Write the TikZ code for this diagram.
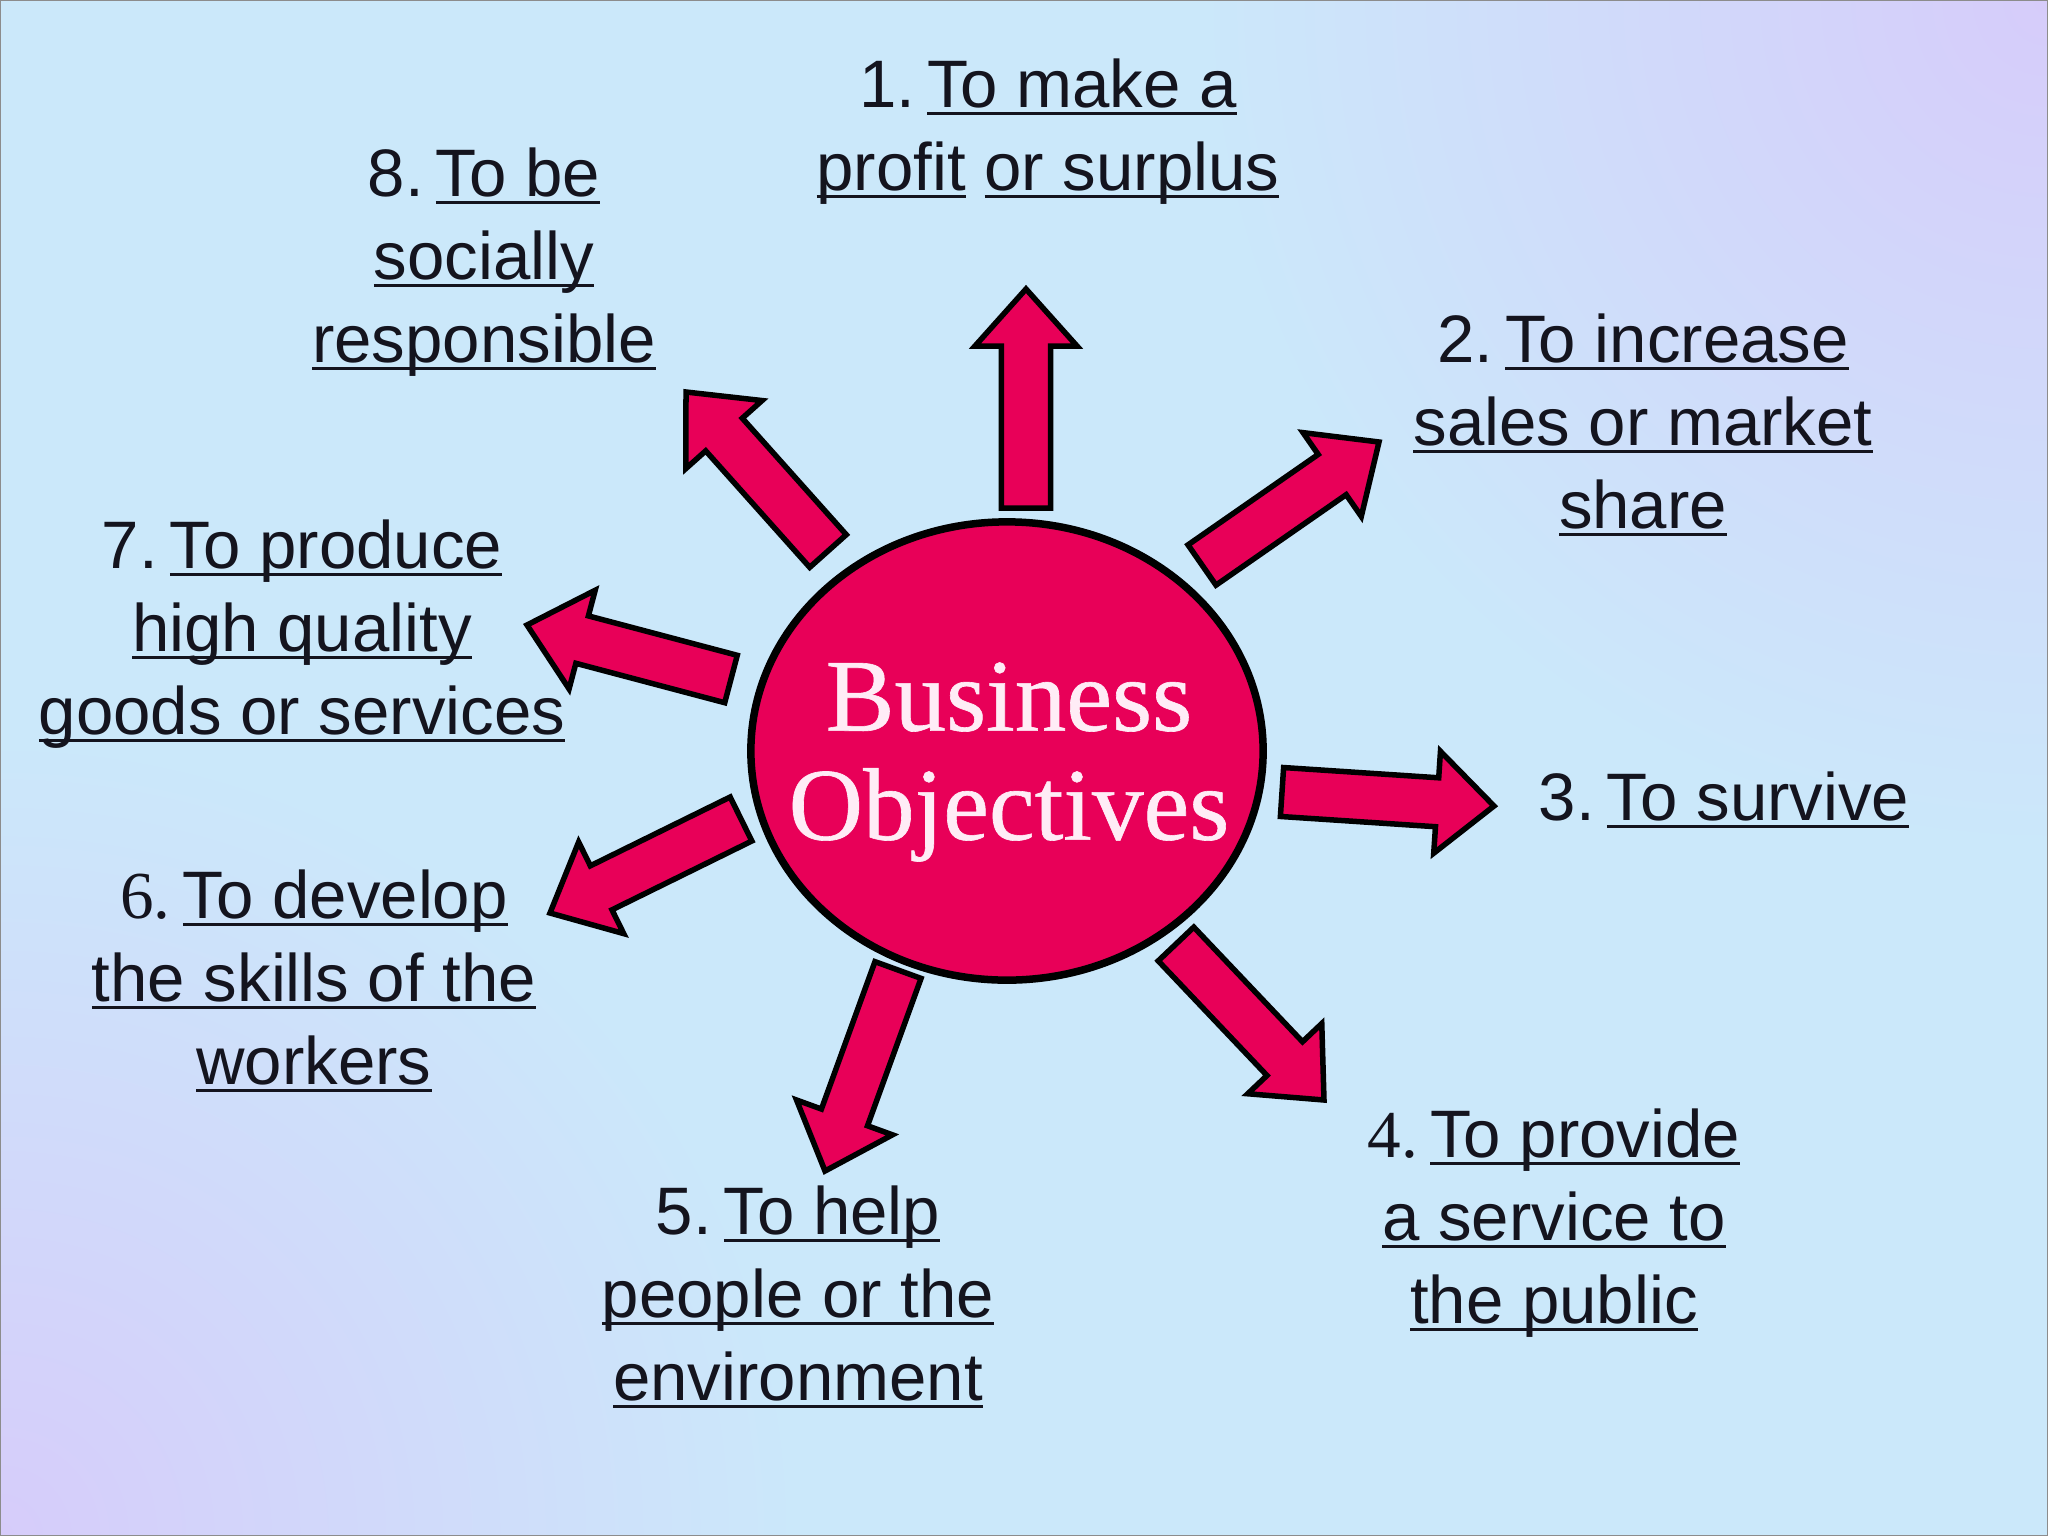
\documentclass[tikz,border=0pt]{standalone}
\usepackage{fontspec}
\setmainfont{Liberation Sans}
\newfontfamily\numserif{Liberation Serif}
\newfontfamily\ctrfont[FakeBold=0.6]{Liberation Serif}
\usetikzlibrary{calc,shapes.geometric}
\definecolor{bgblue}{RGB}{203,232,250}
\definecolor{bglav}{RGB}{214,204,250}
\definecolor{objpink}{RGB}{232,0,88}
\definecolor{ctrtext}{RGB}{255,236,246}
\definecolor{labeltext}{RGB}{20,20,30}
\newsavebox\ulbox
\newcommand\uln[1]{\sbox\ulbox{#1}\rlap{\rule[-0.08cm]{\wd\ulbox}{0.035cm}}\usebox\ulbox}
\newcommand\gap{\kern0.18em}
\newcommand\blockarrow[2]{%
  \coordinate (hb) at ($(#2)!0.57cm!(#1)$);
  \draw[arrowbody] ($(#1)!0.245cm!90:(#2)$) -- ($(hb)!0.245cm!90:(#2)$) -- ($(hb)!0.51cm!90:(#2)$) -- (#2) -- ($(hb)!0.51cm!-90:(#2)$) -- ($(hb)!0.245cm!-90:(#2)$) -- ($(#1)!0.245cm!-90:(#2)$) -- cycle;}
\tikzset{
  arrowbody/.style={fill=objpink, draw=black, line width=0.055cm, line join=miter},
  lbl/.style={font=\fontsize{19.1pt}{23.6pt}\selectfont, text=labeltext, align=center, anchor=north, inner sep=0pt, outer sep=0pt},
  centre/.style={ellipse, draw=black, line width=0.075cm, fill=objpink, minimum width=5.12cm, minimum height=4.58cm, inner sep=0pt},
  centretext/.style={align=center, inner sep=0pt, text=ctrtext, font=\ctrfont\fontsize{29.3pt}{31pt}\selectfont}
}
\begin{document}
\begin{tikzpicture}[x=0.01cm,y=-0.01cm]
\useasboundingbox (0,0) rectangle (2048,1536);
% background
\fill[bgblue] (0,0) rectangle (2048,1536);
\begin{scope}
\clip (0,0) rectangle (2048,1536);
\shade[inner color=bglav, outer color=bgblue] (2048,0) circle (850);
\shade[inner color=bglav, outer color=bgblue] (0,1536) circle (800);
\end{scope}
\draw[line width=0.02cm, black!45] (0,0) rectangle (2048,1536);

% centre
\node[centre] (obj) at (1007,751) {};
\node[centretext] (objtext) at (1009,762) {Business\\Objectives};

% arrow end points
\coordinate (t1) at (1026,508); \coordinate (h1) at (1026,289);
\coordinate (t2) at (1202,565); \coordinate (h2) at (1379,442);
\coordinate (t3) at (1282,792); \coordinate (h3) at (1494,806);
\coordinate (t4) at (1176,944); \coordinate (h4) at (1324,1100);
\coordinate (t5) at (898,970);  \coordinate (h5) at (825,1171);
\coordinate (t6) at (741,819);  \coordinate (h6) at (550,913);
\coordinate (t7) at (731,679);  \coordinate (h7) at (527,625);
\coordinate (t8) at (828,551);  \coordinate (h8) at (686,392);

\blockarrow{t1}{h1}
\blockarrow{t2}{h2}
\blockarrow{t3}{h3}
\blockarrow{t4}{h4}
\blockarrow{t5}{h5}
\blockarrow{t6}{h6}
\blockarrow{t7}{h7}
\blockarrow{t8}{h8}

% labels
\node[lbl] (l1) at (1048,57) {\rule{0pt}{0.5cm}1.\gap\uln{To make a}\\\uln{profit} \uln{or surplus}};
\node[lbl] (l2) at (1643,312) {\rule{0pt}{0.5cm}2.\gap\uln{To increase}\\\uln{sales or market}\\\uln{share}};
\node[lbl] (l3) at (1724,770) {\rule{0pt}{0.5cm}3.\gap\uln{To survive}};
\node[lbl] (l4) at (1554,1107) {\rule{0pt}{0.5cm}{\numserif 4.}\gap\uln{To provide}\\\uln{a service to}\\\uln{the public}};
\node[lbl] (l5) at (798,1184) {\rule{0pt}{0.5cm}5.\gap\uln{To help}\\\uln{people or the}\\\uln{environment}};
\node[lbl] (l6) at (314,868) {\rule{0pt}{0.5cm}{\numserif 6.}\gap\uln{To develop}\\\uln{the skills of the}\\\uln{workers}};
\node[lbl] (l7) at (302,518) {\rule{0pt}{0.5cm}7.\gap\uln{To produce}\\\uln{high quality}\\\uln{goods or services}};
\node[lbl] (l8) at (484,146) {\rule{0pt}{0.5cm}8.\gap\uln{To be}\\\uln{socially}\\\uln{responsible}};
\end{tikzpicture}
\end{document}
